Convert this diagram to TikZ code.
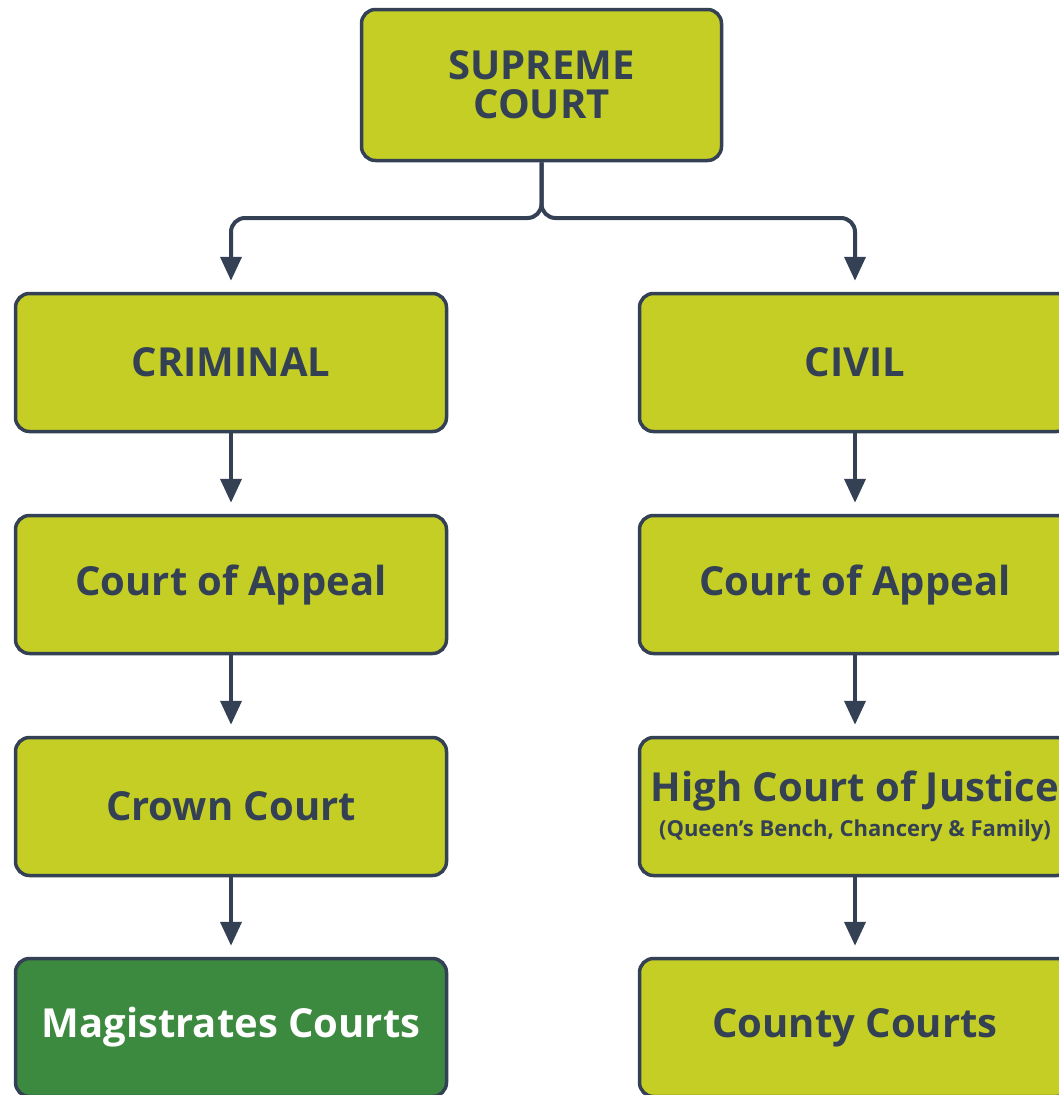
\documentclass[tikz,border=0pt]{standalone}
\usepackage{fontspec}
\setmainfont{Open Sans}
\usetikzlibrary{arrows.meta}
\definecolor{courtlime}{HTML}{C4CE24}
\definecolor{courtnavy}{HTML}{344154}
\definecolor{courtgreen}{HTML}{3C8A3F}
\begin{document}
\begin{tikzpicture}[x=1pt,y=1pt,
	court/.style={rectangle, rounded corners=14pt, draw=courtnavy, line width=3.5pt, fill=courtlime,
		text=courtnavy, font=\bfseries\fontsize{40}{40}\selectfont, align=center,
		minimum width=431pt, minimum height=138pt, inner sep=0pt},
	lower/.style={court, fill=courtgreen, text=white},
	link/.style={draw=courtnavy, line width=4pt, -{Triangle[width=21pt,length=24pt]}, shorten >=11pt}]
	\useasboundingbox (0,0) rectangle (1059,-1095);
	% top
	\node (SC) at (541.5,-85) [court, minimum width=360pt, minimum height=151pt] {SUPREME\\[-1pt]COURT};
	% criminal side
	\node (CR)  at (231,-362.5)  [court] {CRIMINAL};
	\node (CR1) at (231,-584.5)  [court] {Court of Appeal};
	\node (CR2) at (231,-806.5)  [court] {Crown Court};
	\node (CR3) at (231,-1027.5) [lower] {Magistrates Courts};
	% civil side
	\node (CV)  at (855,-362.5)  [court] {CIVIL};
	\node (CV1) at (855,-584.5)  [court] {Court of Appeal};
	\node (CV2) at (855,-806.5)  [court] {High Court of Justice\\[-5pt]{\fontsize{22}{22}\selectfont (Queen’s Bench, Chancery \& Family)}};
	\node (CV3) at (855,-1027.5) [court] {County Courts};
	% links
	\draw[link, rounded corners=14pt] (SC.south) |- (541.5,-218) -| (CR.north);
	\draw[link, rounded corners=14pt] (SC.south) |- (541.5,-218) -| (CV.north);
	\draw[link] (CR) -- (CR1);
	\draw[link] (CR1) -- (CR2);
	\draw[link] (CR2) -- (CR3);
	\draw[link] (CV) -- (CV1);
	\draw[link] (CV1) -- (CV2);
	\draw[link] (CV2) -- (CV3);
\end{tikzpicture}
\end{document}
